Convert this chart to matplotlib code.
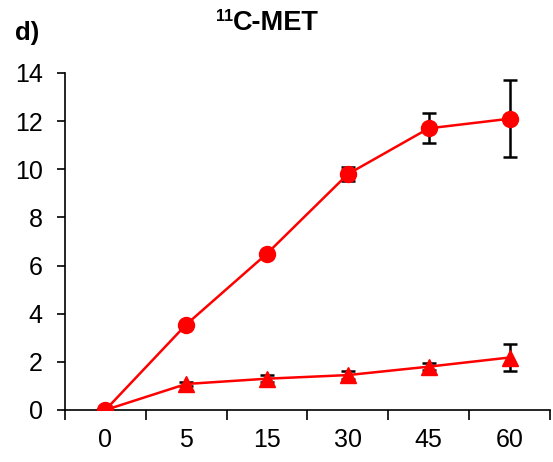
import matplotlib
matplotlib.use("Agg")
import matplotlib.pyplot as plt
import numpy as np

plt.rcParams['font.family'] = ['Liberation Sans', 'DejaVu Sans']

categories = ["0", "5", "15", "30", "45", "60"]
circle_vals = [0, 3.55, 6.5, 9.8, 11.7, 12.1]
circle_err = [0, 0.05, 0.05, 0.3, 0.62, 1.6]
tri_vals = [0, 1.08, 1.3, 1.45, 1.8, 2.18]
tri_err = [0, 0.1, 0.15, 0.15, 0.15, 0.56]

fig = plt.figure(figsize=(5.53, 4.62), dpi=100)
ax = fig.add_axes([0.1175, 0.1126, 0.877, 0.7294])
x = np.arange(len(categories))

ax.errorbar(x, circle_vals, yerr=circle_err, fmt='none', ecolor='black',
            elinewidth=1.8, capsize=5, capthick=1.8, zorder=2)
ax.errorbar(x, tri_vals, yerr=tri_err, fmt='none', ecolor='black',
            elinewidth=1.8, capsize=5, capthick=1.8, zorder=2)
ax.plot(x, circle_vals, color='#ff0000', marker='o', markersize=11.5,
        linewidth=1.8, zorder=3)
ax.plot(x, tri_vals, color='#ff0000', marker='^', markersize=12,
        linewidth=1.8, zorder=3)

ax.set_xlim(-0.5, 5.5)
ax.set_ylim(0, 14)
ax.set_yticks(np.arange(0, 15, 2))
ax.set_xticks(np.arange(-0.5, 6, 1))
ax.set_xticklabels([])
ax.set_xticks(x, minor=True)
ax.set_xticklabels(categories, minor=True)
ax.tick_params(axis='x', which='minor', length=0, labelsize=18, pad=13)
ax.tick_params(axis='x', which='major', length=7, width=1.2)
ax.tick_params(axis='y', length=6, width=1.2, labelsize=18, pad=10)
for s in ['top', 'right']:
    ax.spines[s].set_visible(False)
for s in ['left', 'bottom']:
    ax.spines[s].set_linewidth(1.2)

fig.text(233/553, 1 - 30/462, 'C-MET', ha='left', va='baseline',
         fontsize=19.5, fontweight='bold')
fig.text(233/553, 1 - 21/462, '11', ha='right', va='baseline',
         fontsize=11.5, fontweight='bold')
fig.text(15/553, 1 - 33/462, 'd)', ha='left', va='center', fontsize=18.5, fontweight='bold')

fig.savefig('out.png', dpi=100)
